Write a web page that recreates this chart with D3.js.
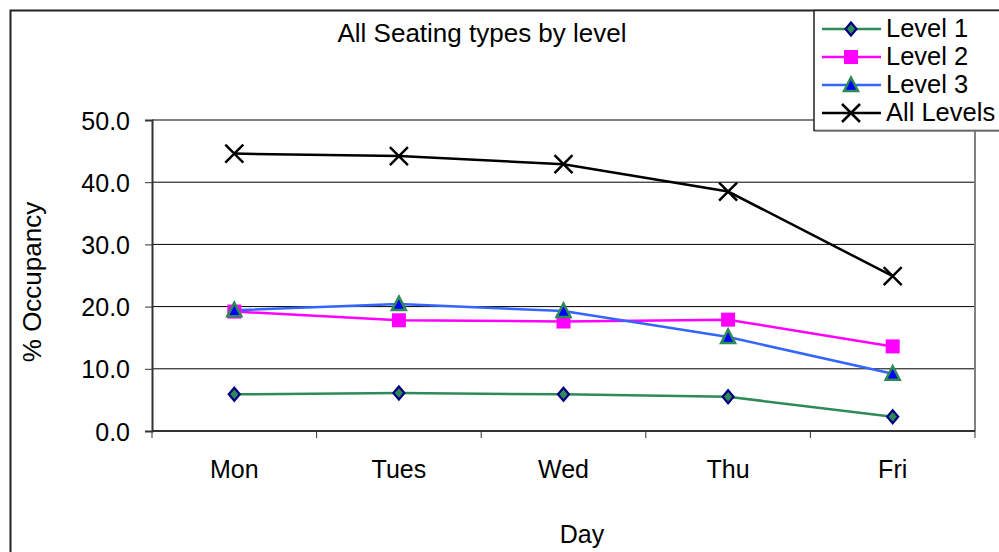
<!DOCTYPE html>
<html>
<head>
<meta charset="utf-8">
<script src="https://cdn.jsdelivr.net/npm/d3@7"></script>
<style>
  html, body { margin: 0; padding: 0; background: #fff; }
  svg { display: block; font-family: "Liberation Sans", Arial, sans-serif; }
</style>
</head>
<body>
<svg id="chart" width="999" height="552"></svg>
<script>
// Weekday occupancy by seating level
const days = ["Mon", "Tues", "Wed", "Thu", "Fri"];
const level1 = [5.9, 6.1, 5.9, 5.5, 2.3];
const level2 = [19.2, 17.8, 17.6, 17.9, 13.6];
const level3 = [19.4, 20.4, 19.3, 15.1, 9.2];
const allLevels = [44.6, 44.2, 42.9, 38.5, 24.9];
const yTicks = [0, 10, 20, 30, 40, 50];

const series = [
  { name: "Level 1", values: level1, line: "#2e8b57", marker: "diamond", fill: "#2e8b57", stroke: "#000080" },
  { name: "Level 2", values: level2, line: "#ff00ff", marker: "square", fill: "#ff00ff", stroke: "#ff00ff" },
  { name: "Level 3", values: level3, line: "#3366ff", marker: "triangle", fill: "#0000ff", stroke: "#2e8b57" },
  { name: "All Levels", values: allLevels, line: "#000000", marker: "x", fill: "none", stroke: "#000000" }
];

const svg = d3.select("#chart");
const plot = { left: 152, top: 120, right: 975, bottom: 431 };

// Outer chart frame (left and top edges visible)
svg.append("path")
  .attr("d", "M10.5,552 V10.5 H999")
  .attr("fill", "none").attr("stroke", "#222").attr("stroke-width", 2);

const x = d3.scaleBand().domain(days).range([plot.left, plot.right]);
const y = d3.scaleLinear().domain([0, 50]).range([plot.bottom, plot.top]);

// Horizontal gridlines
svg.append("g").selectAll("line").data(yTicks.filter(t => t > 0 && t < 50)).join("line")
  .attr("x1", plot.left).attr("x2", plot.right)
  .attr("y1", d => y(d)).attr("y2", d => y(d))
  .attr("stroke", "#000").attr("stroke-width", 1);

// Plot area border (top and right, grey)
svg.append("path")
  .attr("d", `M${plot.left},${plot.top} H${plot.right} V${plot.bottom}`)
  .attr("fill", "none").attr("stroke", "#808080").attr("stroke-width", 2);

// Y axis
const yAxis = d3.axisLeft(y).tickValues(yTicks).tickFormat(d3.format(".1f")).tickSize(7).tickPadding(15);
const gy = svg.append("g").attr("transform", `translate(${plot.left},0)`).call(yAxis);
gy.attr("font-size", null).attr("font-family", null);
gy.select(".domain").attr("stroke", "#333").attr("stroke-width", 2);
gy.selectAll(".tick line").attr("stroke", "#333");
gy.selectAll("text").style("font-size", "25px").attr("fill", "#000").attr("dy", "0.36em");

// X axis with ticks at category boundaries
const gx = svg.append("g").attr("transform", `translate(0,${plot.bottom})`);
gx.append("line").attr("x1", plot.left).attr("x2", plot.right).attr("y1", 0).attr("y2", 0)
  .attr("stroke", "#333").attr("stroke-width", 2);
const bounds = days.map(d => x(d)).concat([x(days[days.length - 1]) + x.bandwidth()]);
gx.selectAll("line.tick").data(bounds).join("line").attr("class", "tick")
  .attr("x1", d => d).attr("x2", d => d).attr("y1", 0).attr("y2", 7)
  .attr("stroke", "#333");
gx.selectAll("text").data(days).join("text")
  .attr("x", d => x(d) + x.bandwidth() / 2).attr("y", 47)
  .attr("text-anchor", "middle").style("font-size", "25px").text(d => d);

// Titles
svg.append("text").attr("x", 482).attr("y", 42).attr("text-anchor", "middle")
  .style("font-size", "26px").text("All Seating types by level");
svg.append("text").attr("x", 582).attr("y", 543).attr("text-anchor", "middle")
  .style("font-size", "25px").text("Day");
svg.append("text").attr("transform", "translate(41,282) rotate(-90)").attr("text-anchor", "middle")
  .style("font-size", "26px").text("% Occupancy");

function drawMarker(g, s) {
  if (s.marker === "diamond") {
    g.append("path").attr("d", "M0,-6.5 L5.5,0 L0,6.5 L-5.5,0 Z")
      .attr("fill", s.fill).attr("stroke", s.stroke).attr("stroke-width", 2.2);
  } else if (s.marker === "square") {
    g.append("rect").attr("x", -7).attr("y", -7).attr("width", 14).attr("height", 14)
      .attr("fill", s.fill);
  } else if (s.marker === "triangle") {
    g.append("path").attr("d", "M0,-7.5 L7,6 L-7,6 Z")
      .attr("fill", s.fill).attr("stroke", s.stroke).attr("stroke-width", 2.5);
  } else if (s.marker === "x") {
    g.append("path").attr("d", "M-9,-9 L9,9 M9,-9 L-9,9")
      .attr("stroke", s.stroke).attr("stroke-width", 2.5).attr("fill", "none");
  }
}

const line = d3.line().x((d, i) => x(days[i]) + x.bandwidth() / 2).y(d => y(d));

series.forEach(s => {
  svg.append("path").datum(s.values).attr("d", line)
    .attr("fill", "none").attr("stroke", s.line).attr("stroke-width", 2.5);
});
series.forEach(s => {
  s.values.forEach((v, i) => {
    const g = svg.append("g")
      .attr("transform", `translate(${x(days[i]) + x.bandwidth() / 2},${y(v)})`);
    drawMarker(g, s);
  });
});

// Legend
const lg = svg.append("g");
lg.append("rect").attr("x", 814).attr("y", 10.5).attr("width", 200).attr("height", 120)
  .attr("fill", "#fff").attr("stroke", "#222").attr("stroke-width", 1.5);
lg.append("line").attr("x1", 815).attr("x2", 999).attr("y1", 131).attr("y2", 131)
  .attr("stroke", "#808080").attr("stroke-width", 1.5);
series.forEach((s, i) => {
  const cy = 29 + i * 28;
  lg.append("line").attr("x1", 822).attr("x2", 881).attr("y1", cy).attr("y2", cy)
    .attr("stroke", s.line).attr("stroke-width", 2.5);
  const g = lg.append("g").attr("transform", `translate(851,${cy})`);
  drawMarker(g, s);
  lg.append("text").attr("x", 886).attr("y", cy + 8).style("font-size", "25.5px").text(s.name);
});
</script>
</body>
</html>
